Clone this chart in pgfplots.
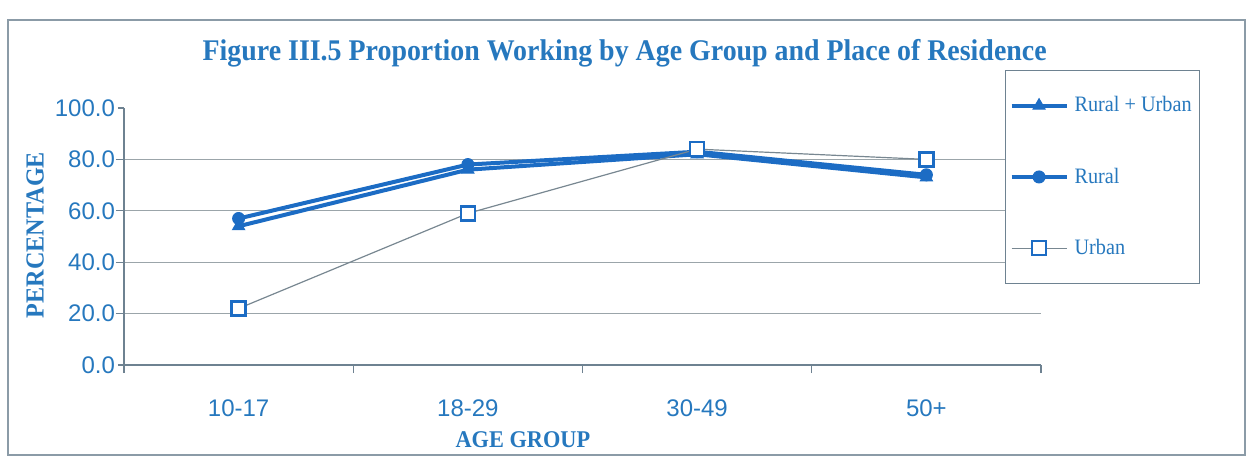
\documentclass[border=0pt]{standalone}
\usepackage{pgfplots}
\pgfplotsset{compat=1.18}
\usepackage{fontspec}
\setmainfont{Liberation Sans}
\newfontfamily\titlefont[FakeStretch=0.93]{Liberation Serif}
\newfontfamily\legfont[FakeStretch=0.92]{Liberation Serif}

\definecolor{txtblue}{RGB}{38,120,190}
\definecolor{lineblue}{RGB}{28,108,196}
\definecolor{gridgray}{RGB}{155,165,170}
\definecolor{axisgray}{RGB}{110,130,145}
\definecolor{urbangray}{RGB}{120,135,145}

\begin{document}
\begin{tikzpicture}
\useasboundingbox (0,0) rectangle (626.5pt,231pt);
\draw[axisgray!80, line width=0.6pt] (4pt,3.5pt) rectangle (622.5pt,221pt);
\begin{axis}[
  at={(62pt,48.5pt)}, anchor=south west,
  scale only axis, width=458.5pt, height=128.5pt,
  xmin=-0.5, xmax=3.5, ymin=0, ymax=100,
  axis x line=bottom, axis y line=left,
  axis line style={draw=axisgray, line width=0.6pt, -},
  xtick={0,1,2,3},
  xticklabels={10-17,18-29,30-49,50+},
  minor xtick={-0.5,0.5,1.5,2.5,3.5},
  ytick={0,20,...,100},
  minor ytick={20,40,60,80},
  yminorgrids,
  minor grid style={draw=gridgray, line width=0.6pt},
  major tick length=0pt,
  minor tick length=4pt,
  tick align=outside,
  tick style={draw=axisgray, line width=0.6pt},
  extra y ticks={0,20,...,100},
  extra y tick labels={},
  extra y tick style={major tick length=3pt, tick align=outside},
  /pgf/number format/assume math mode=true,
  yticklabel style={/pgf/number format/fixed, /pgf/number format/fixed zerofill,
    /pgf/number format/precision=1, xshift=-1pt},
  ticklabel style={font=\fontsize{12}{14}\selectfont, text=txtblue},
  xticklabel style={yshift=-14pt},
  xlabel={AGE GROUP},
  xlabel style={at={(axis description cs:0.435,-0.292)}, anchor=center,
    font=\titlefont\bfseries\fontsize{12}{14}\selectfont, text=txtblue},
  ylabel={PERCENTAGE},
  ylabel style={at={(axis description cs:-0.097,0.506)}, anchor=center,
    font=\titlefont\bfseries\fontsize{13}{15}\selectfont, text=txtblue},
  title={Figure III.5 Proportion Working by Age Group and Place of Residence},
  title style={at={(axis description cs:0.546,1.168)}, anchor=center,
    font=\titlefont\bfseries\fontsize{15}{17}\selectfont, text=txtblue},
  legend style={at={(0.9607,1.148)}, anchor=north west,
    draw=axisgray, line width=0.6pt, fill=white,
    font=\legfont\fontsize{11}{12}\selectfont, text=txtblue,
    inner xsep=2pt, inner ysep=11pt, row sep=22.5pt, column sep=1pt},
  legend cell align=left,
  legend image code/.code={
    \draw[mark repeat=2, mark phase=2, #1]
      plot coordinates {(0pt,0pt) (13.75pt,0pt) (27.5pt,0pt)};
  },
]
\addplot[draw=lineblue, line width=2pt, mark=triangle*,
  mark size=3.5pt, mark options={fill=lineblue, draw=lineblue, line width=0.5pt}]
  coordinates {(0,54) (1,76) (2,82) (3,73)};
\addlegendentry{Rural + Urban}
\addplot[draw=lineblue, line width=2pt, mark=*,
  mark size=3pt, mark options={fill=lineblue, draw=lineblue, line width=0.5pt}]
  coordinates {(0,57) (1,78) (2,83) (3,74)};
\addlegendentry{Rural}
\addplot[draw=urbangray, line width=0.6pt, mark=square*,
  mark size=3.5pt, mark options={fill=white, draw=lineblue, line width=1.2pt}]
  coordinates {(0,22) (1,59) (2,84) (3,80)};
\addlegendentry{Urban}
\end{axis}
\end{tikzpicture}
\end{document}
